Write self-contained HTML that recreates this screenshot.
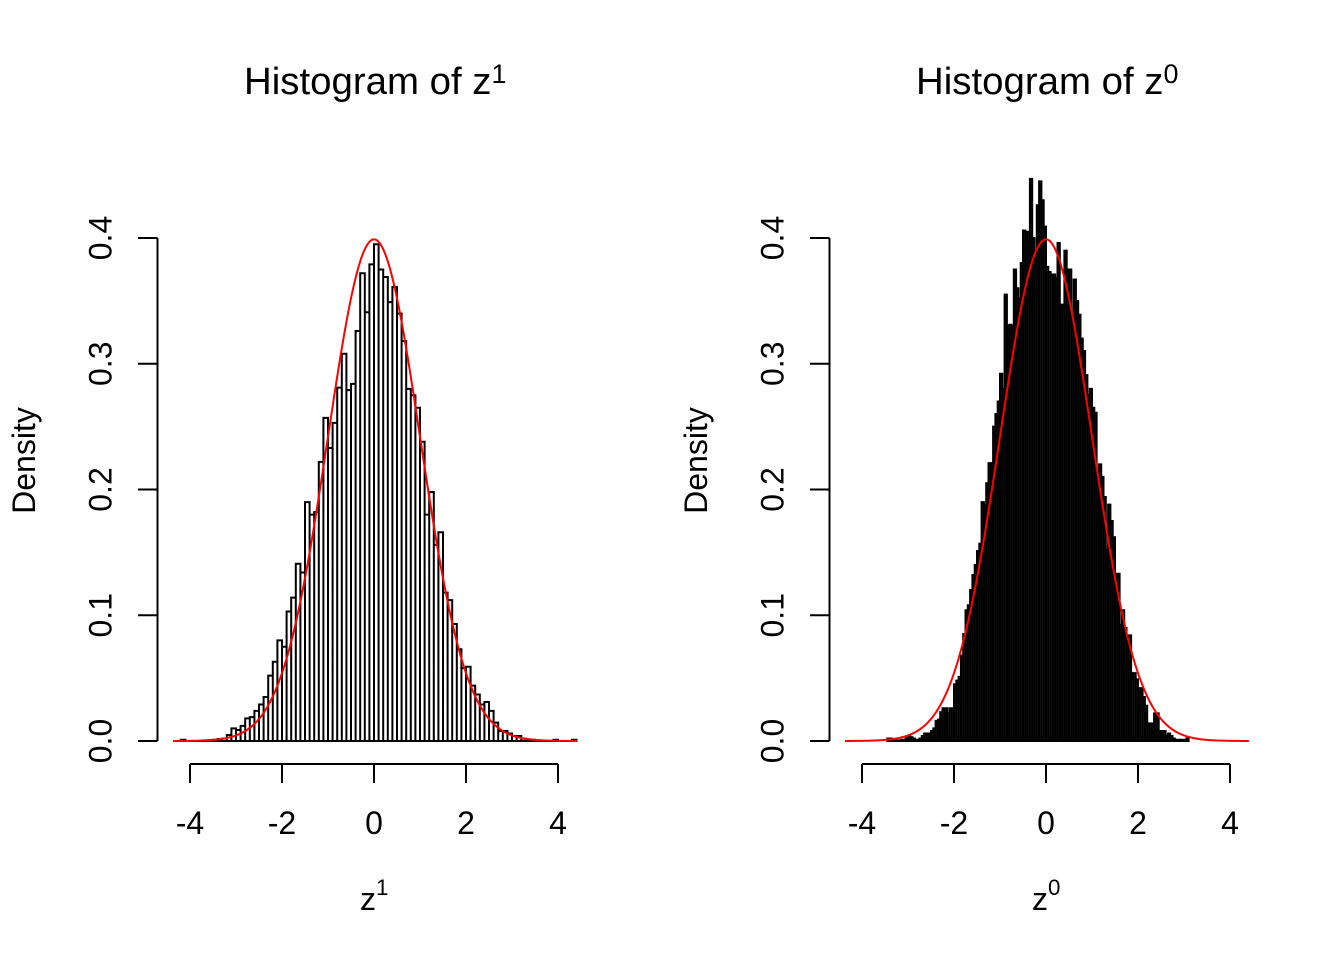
<!DOCTYPE html>
<html>
<head>
<meta charset="utf-8">
<style>
  html, body { margin: 0; padding: 0; background: #ffffff; }
  svg { display: block; }
  text { font-family: "Liberation Sans", Arial, Helvetica, sans-serif; fill: #000; }
</style>
</head>
<body>
<svg id="s" width="1344" height="960" viewBox="0 0 1344 960" xmlns="http://www.w3.org/2000/svg">
  <rect x="0" y="0" width="1344" height="960" fill="#ffffff"/>

  <!-- ============ LEFT PANEL ============ -->
  <text x="244" y="94" font-size="38.4">Histogram of z<tspan font-size="26.9" dy="-11">1</tspan></text>

  <!-- y axis -->
  <g stroke="#000" stroke-width="2" fill="none" stroke-linecap="butt">
    <line x1="157.5" y1="238" x2="157.5" y2="741"/>
    <line x1="138" y1="741" x2="157.5" y2="741"/>
    <line x1="138" y1="615.25" x2="157.5" y2="615.25"/>
    <line x1="138" y1="489.5" x2="157.5" y2="489.5"/>
    <line x1="138" y1="363.75" x2="157.5" y2="363.75"/>
    <line x1="138" y1="238" x2="157.5" y2="238"/>
  </g>
  <g font-size="32" text-anchor="middle">
    <text transform="translate(111.5,741) rotate(-90)">0.0</text>
    <text transform="translate(111.5,615.25) rotate(-90)">0.1</text>
    <text transform="translate(111.5,489.5) rotate(-90)">0.2</text>
    <text transform="translate(111.5,363.75) rotate(-90)">0.3</text>
    <text transform="translate(111.5,238) rotate(-90)">0.4</text>
    <text transform="translate(35,460.5) rotate(-90)">Density</text>
  </g>

  <!-- x axis -->
  <g stroke="#000" stroke-width="2" fill="none">
    <line x1="190" y1="764" x2="558" y2="764"/>
    <line x1="190" y1="764" x2="190" y2="783"/>
    <line x1="282" y1="764" x2="282" y2="783"/>
    <line x1="374" y1="764" x2="374" y2="783"/>
    <line x1="466" y1="764" x2="466" y2="783"/>
    <line x1="558" y1="764" x2="558" y2="783"/>
  </g>
  <g font-size="32" text-anchor="middle">
    <text x="190" y="834">-4</text>
    <text x="282" y="834">-2</text>
    <text x="374" y="834">0</text>
    <text x="466" y="834">2</text>
    <text x="558" y="834">4</text>
  </g>
  <text x="360" y="910" font-size="32">z<tspan font-size="22.4" dy="-15">1</tspan></text>

  <!-- ============ RIGHT PANEL ============ -->
  <text x="916" y="94" font-size="38.4">Histogram of z<tspan font-size="26.9" dy="-11">0</tspan></text>

  <g stroke="#000" stroke-width="2" fill="none">
    <line x1="829.5" y1="238" x2="829.5" y2="741"/>
    <line x1="810" y1="741" x2="829.5" y2="741"/>
    <line x1="810" y1="615.25" x2="829.5" y2="615.25"/>
    <line x1="810" y1="489.5" x2="829.5" y2="489.5"/>
    <line x1="810" y1="363.75" x2="829.5" y2="363.75"/>
    <line x1="810" y1="238" x2="829.5" y2="238"/>
  </g>
  <g font-size="32" text-anchor="middle">
    <text transform="translate(783.5,741) rotate(-90)">0.0</text>
    <text transform="translate(783.5,615.25) rotate(-90)">0.1</text>
    <text transform="translate(783.5,489.5) rotate(-90)">0.2</text>
    <text transform="translate(783.5,363.75) rotate(-90)">0.3</text>
    <text transform="translate(783.5,238) rotate(-90)">0.4</text>
    <text transform="translate(707,460.5) rotate(-90)">Density</text>
  </g>

  <g stroke="#000" stroke-width="2" fill="none">
    <line x1="862" y1="764" x2="1230" y2="764"/>
    <line x1="862" y1="764" x2="862" y2="783"/>
    <line x1="954" y1="764" x2="954" y2="783"/>
    <line x1="1046" y1="764" x2="1046" y2="783"/>
    <line x1="1138" y1="764" x2="1138" y2="783"/>
    <line x1="1230" y1="764" x2="1230" y2="783"/>
  </g>
  <g font-size="32" text-anchor="middle">
    <text x="862" y="834">-4</text>
    <text x="954" y="834">-2</text>
    <text x="1046" y="834">0</text>
    <text x="1138" y="834">2</text>
    <text x="1230" y="834">4</text>
  </g>
  <text x="1032" y="910" font-size="32">z<tspan font-size="22.4" dy="-15">0</tspan></text>

  <g id="bars"></g>
  <g id="curves"></g>
</svg>

<script>
(function(){
  var NS = "http://www.w3.org/2000/svg";
  var bars = document.getElementById("bars");
  var curves = document.getElementById("curves");
  function Y(d){ return 741 - d * 1257.5; }

  function histPath(x0, unitPx, start, step, data){
    var p = "";
    for (var i = 0; i < data.length; i++){
      var a = x0 + (start + i * step) * unitPx;
      var b = x0 + (start + (i + 1) * step) * unitPx;
      var t = Y(data[i]);
      p += "M" + a.toFixed(2) + " 741V" + t.toFixed(2) + "H" + b.toFixed(2) + "V741Z";
    }
    return p;
  }

  // Left histogram: bins of 0.1 from -4.3 to 4.4
  var L = [
    0, 0.001, 0, 0, 0, 0, 0.0005, 0.0008, 0.001, 0.0016,
    0.002, 0.0048, 0.010, 0.0087, 0.012, 0.018, 0.019, 0.024, 0.029, 0.035,
    0.052, 0.063, 0.080, 0.075, 0.103, 0.114, 0.141, 0.134, 0.190, 0.180,
    0.182, 0.222, 0.257, 0.233, 0.253, 0.281, 0.308, 0.279, 0.284, 0.326,
    0.372, 0.341, 0.379, 0.395, 0.375, 0.369, 0.349, 0.361, 0.340, 0.318,
    0.280, 0.275, 0.265, 0.238, 0.180, 0.198, 0.156, 0.166, 0.118, 0.112,
    0.093, 0.073, 0.058, 0.059, 0.044, 0.037, 0.029, 0.031, 0.024, 0.0146,
    0.008, 0.008, 0.006, 0.004, 0.004, 0.0019, 0.0013, 0.001, 0.0006, 0.0003,
    0, 0, 0.001, 0, 0, 0, 0.001
  ];
  var pl = document.createElementNS(NS, "path");
  pl.setAttribute("d", histPath(374, 46, -4.3, 0.1, L));
  pl.setAttribute("fill", "none");
  pl.setAttribute("stroke", "#000");
  pl.setAttribute("stroke-width", "2");
  bars.appendChild(pl);

  // Right histogram: bins of 0.05 from -3.45
  var R = [
    0.002, 0.002, 0.001, 0.0005, 0.0005, 0.0005, 0.001, 0.001, 0.003, 0.004,
    0.003, 0.002, 0.001, 0.001, 0.002, 0.004, 0.006, 0.006, 0.006, 0.008,
    0.010, 0.016, 0.017, 0.023, 0.026, 0.026, 0.022, 0.026, 0.026, 0.045,
    0.048, 0.051, 0.068, 0.085, 0.104, 0.108, 0.120, 0.132, 0.140, 0.151,
    0.157, 0.190, 0.188, 0.205, 0.221, 0.221, 0.250, 0.260, 0.270, 0.292,
    0.280, 0.355, 0.330, 0.331, 0.330, 0.375, 0.360, 0.352, 0.380, 0.406,
    0.405, 0.405, 0.447, 0.400, 0.389, 0.426, 0.445, 0.430, 0.409, 0.377,
    0.373, 0.371, 0.371, 0.368, 0.396, 0.347, 0.347, 0.390, 0.375, 0.375,
    0.335, 0.367, 0.350, 0.339, 0.320, 0.310, 0.291, 0.275, 0.280, 0.265,
    0.261, 0.217, 0.220, 0.210, 0.194, 0.152, 0.188, 0.175, 0.162, 0.133,
    0.133, 0.092, 0.104, 0.090, 0.084, 0.084, 0.054, 0.054, 0.049, 0.042,
    0.042, 0.035, 0.028, 0.014, 0.014, 0.014, 0.022, 0.022, 0.008, 0.008,
    0.008, 0.004, 0.006, 0.004, 0.002, 0.001, 0.001, 0.001, 0.001, 0.001,
    0.002
  ];
  var pr = document.createElementNS(NS, "path");
  pr.setAttribute("d", histPath(1046, 46, -3.45, 0.05, R));
  pr.setAttribute("fill", "#1a1a1a");
  pr.setAttribute("stroke", "#000");
  pr.setAttribute("stroke-width", "2");
  bars.appendChild(pr);

  // Normal density curves
  function curve(x0){
    var pts = [];
    var a = -4.37, b = 4.41, n = 400;
    for (var i = 0; i <= n; i++){
      var v = a + (b - a) * i / n;
      var d = Math.exp(-v * v / 2) / Math.sqrt(2 * Math.PI);
      pts.push((x0 + v * 46).toFixed(2) + "," + Y(d).toFixed(2));
    }
    var pl = document.createElementNS(NS, "polyline");
    pl.setAttribute("points", pts.join(" "));
    pl.setAttribute("fill", "none");
    pl.setAttribute("stroke", "#ff0000");
    pl.setAttribute("stroke-width", "2");
    pl.setAttribute("stroke-linejoin", "round");
    curves.appendChild(pl);
  }
  curve(374);
  curve(1046);
})();
</script>
</body>
</html>
